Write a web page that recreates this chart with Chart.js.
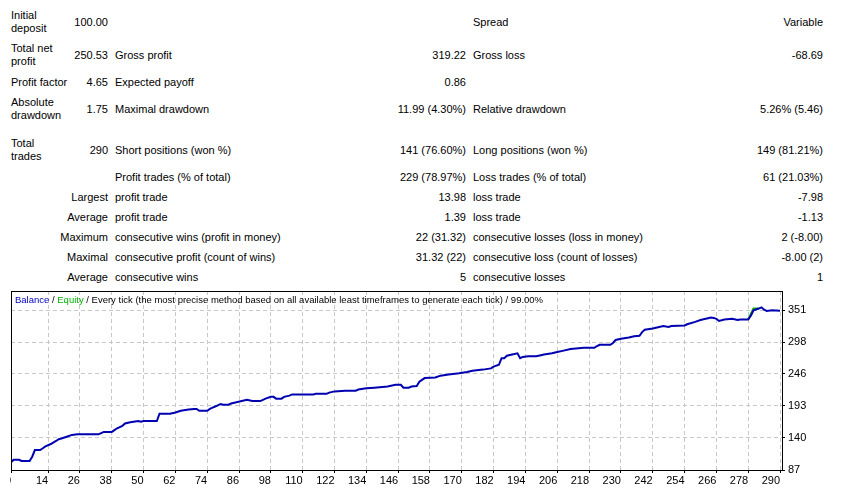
<!DOCTYPE html>
<html>
<head>
<meta charset="utf-8">
<script src="https://cdn.jsdelivr.net/npm/chart.js@4.4.1/dist/chart.umd.min.js"></script>
<style>
  body { margin: 0; width: 841px; height: 491px; background: #fff; position: relative; overflow: hidden;
         font-family: Tahoma, "Liberation Sans", Arial, sans-serif; font-size: 11px; color: #000; }
  .cell { position: absolute; white-space: pre; line-height: 13px; }
  .right { text-align: right; }
  #wrap { position: absolute; left: 10px; top: 290px; width: 830px; height: 200px; }
  #hdr { position: absolute; left: 15px; top: 294px; white-space: pre; line-height: 12px; font-size: 9.5px; z-index: 2; }
</style>
</head>
<body>
<div id="report"></div>
<div id="wrap"><canvas id="balanceChart"></canvas></div>
<div id="hdr"><span style="color:#0000c0">Balance</span> / <span style="color:#00b400">Equity</span> / Every tick (the most precise method based on all available least timeframes to generate each tick) / 99.00%</div>
<script>
// report table (label, value, label, value, label, value) + row centre
const reportRows = [
  [22,  'Initial\ndeposit', '100.00', '', '', 'Spread', 'Variable'],
  [55,  'Total net\nprofit', '250.53', 'Gross profit', '319.22', 'Gross loss', '-68.69'],
  [82,  'Profit factor', '4.65', 'Expected payoff', '0.86', '', ''],
  [109, 'Absolute\ndrawdown', '1.75', 'Maximal drawdown', '11.99 (4.30%)', 'Relative drawdown', '5.26% (5.46)'],
  [150, 'Total\ntrades', '290', 'Short positions (won %)', '141 (76.60%)', 'Long positions (won %)', '149 (81.21%)'],
  [177, '', '', 'Profit trades (% of total)', '229 (78.97%)', 'Loss trades (% of total)', '61 (21.03%)'],
  [197, '', 'Largest', 'profit trade', '13.98', 'loss trade', '-7.98'],
  [217, '', 'Average', 'profit trade', '1.39', 'loss trade', '-1.13'],
  [237, '', 'Maximum', 'consecutive wins (profit in money)', '22 (31.32)', 'consecutive losses (loss in money)', '2 (-8.00)'],
  [257, '', 'Maximal', 'consecutive profit (count of wins)', '31.32 (22)', 'consecutive loss (count of losses)', '-8.00 (2)'],
  [277, '', 'Average', 'consecutive wins', '5', 'consecutive losses', '1']
];

// balance curve (trade number -> balance)
const trades = [0, 1, 3, 4, 7, 8, 9, 11, 12, 13, 15, 17, 18, 19, 21, 23, 25, 33, 34, 35,
  38, 39, 40, 42, 43, 45, 48, 49, 50, 55, 56, 60, 62, 64, 67, 69, 70, 71, 74, 75,
  76, 77, 78, 79, 80, 82, 83, 85, 87, 89, 91, 94, 95, 96, 98, 99, 100, 102, 103, 105,
  106, 114, 115, 119, 120, 122, 126, 130, 131, 134, 137, 142, 145, 147, 148, 150, 151, 153, 154, 155,
  156, 160, 162, 165, 169, 172, 174, 178, 181, 182, 184, 185, 186, 187, 189, 191, 192, 193, 195, 198,
  199, 201, 204, 206, 208, 211, 213, 216, 220, 221, 222, 226, 227, 228, 230, 233, 235, 237, 238, 239,
  242, 244, 246, 248, 249, 254, 255, 258, 260, 262, 264, 265, 266, 267, 269, 272, 274, 275, 278, 279,
  280, 282, 283, 284, 285, 287, 290];
const balance = [100, 104, 104, 102, 102, 109, 120, 120, 123, 126, 130, 135, 138, 139, 142, 145, 146, 146, 148, 150,
  150, 153, 156, 160, 164, 166, 168, 167, 168, 168, 180, 180, 182, 185, 187, 188, 188, 185, 185, 188,
  190, 192, 194, 196, 195, 195, 197, 199, 201, 203, 201, 201, 203, 205, 208, 208, 205, 205, 208, 210,
  212, 212, 213, 213, 215, 217, 218, 218, 220, 222, 223, 225, 228, 228, 223, 223, 225, 226, 233, 236,
  239, 240, 243, 245, 247, 249, 251, 253, 255, 258, 261, 272, 272, 276, 278, 280, 272, 274, 275, 275,
  276, 278, 280, 282, 284, 287, 288, 289, 289, 292, 294, 294, 297, 302, 304, 306, 308, 309, 315, 319,
  321, 323, 325, 323.5, 325, 326, 328, 332, 335, 337, 339, 338.5, 337, 333.5, 336, 337, 335, 336, 336, 342,
  351, 354, 356, 352, 350, 351, 350.5];

// equity only shows where it leaves the balance line
const equityTrades = [278, 280, 282];
const equity = [336, 354, 354];

const xTicks = [0, 14, 26, 38, 50, 62, 74, 86, 98, 110, 122, 134, 146, 158, 170, 182, 194, 206, 218, 230, 242, 254, 266, 278, 290];
const yTicks = [87, 140, 193, 246, 298, 351];

// build the report text
const cols = [{left: 11}, {right: 108}, {left: 115}, {right: 466}, {left: 473}, {right: 823}];
const report = document.getElementById('report');
reportRows.forEach(row => {
  const y = row[0];
  row.slice(1).forEach((txt, i) => {
    if (!txt) return;
    const lines = txt.split('\n').length;
    const d = document.createElement('div');
    d.className = 'cell';
    d.textContent = txt;
    d.style.top = (y - lines * 13 / 2) + 'px';
    if (cols[i].left !== undefined) {
      d.style.left = cols[i].left + 'px';
    } else {
      d.className += ' right';
      d.style.right = (841 - cols[i].right) + 'px';
    }
    report.appendChild(d);
  });
});

const font = { family: 'Tahoma, "Liberation Sans", Arial, sans-serif', size: 11 };

// no automatic room for overhanging tick labels
const noPad = s => { s.paddingLeft = 0; s.paddingRight = 0; s.paddingTop = 0; s.paddingBottom = 0; };

// black frame round the plot
const framePlugin = {
  id: 'frame',
  afterDraw(chart) {
    const { ctx, chartArea: a } = chart;
    const l = Math.round(a.left) + 0.5, t = Math.round(a.top) + 0.5;
    const r = Math.round(a.right) + 0.5, b = Math.round(a.bottom) + 0.5;
    ctx.save();
    ctx.strokeStyle = '#000';
    ctx.lineWidth = 1;
    ctx.strokeRect(l, t, r - l, b - t);
    ctx.restore();
  }
};

new Chart(document.getElementById('balanceChart'), {
  type: 'line',
  data: {
    datasets: [{
      label: 'Balance',
      data: trades.map((t, i) => ({ x: t, y: balance[i] })),
      borderColor: '#0000b0',
      borderWidth: 2,
      pointRadius: 0,
      tension: 0
    }, {
      label: 'Equity',
      data: equityTrades.map((t, i) => ({ x: t, y: equity[i] })),
      borderColor: '#00b400',
      borderWidth: 2,
      pointRadius: 0,
      tension: 0
    }]
  },
  options: {
    responsive: true,
    maintainAspectRatio: false,
    animation: false,
    layout: { padding: { left: 1, top: 1, right: 0, bottom: 0 } },
    plugins: { legend: { display: false }, tooltip: { enabled: false } },
    scales: {
      x: {
        type: 'linear',
        min: 0,
        max: 290.75,
        afterBuildTicks: s => { s.ticks = xTicks.map(v => ({ value: v })); },
        afterFit: s => { s.height = 20; noPad(s); },
        ticks: { align: 'end', autoSkip: false, maxRotation: 0, padding: 1, color: '#000', font },
        grid: { color: '#c8c8c8', tickColor: '#000', tickLength: 3 },
        border: { dash: [4, 3], color: '#000' }
      },
      y: {
        position: 'right',
        min: 87,
        max: 383,
        afterBuildTicks: s => { s.ticks = yTicks.map(v => ({ value: v })); },
        afterFit: s => { s.width = 58; noPad(s); },
        ticks: { padding: 3, color: '#000', font },
        grid: { color: '#c8c8c8', tickColor: '#000', tickLength: 3 },
        border: { dash: [4, 3], color: '#000' }
      }
    }
  },
  plugins: [framePlugin]
});
</script>
</body>
</html>
